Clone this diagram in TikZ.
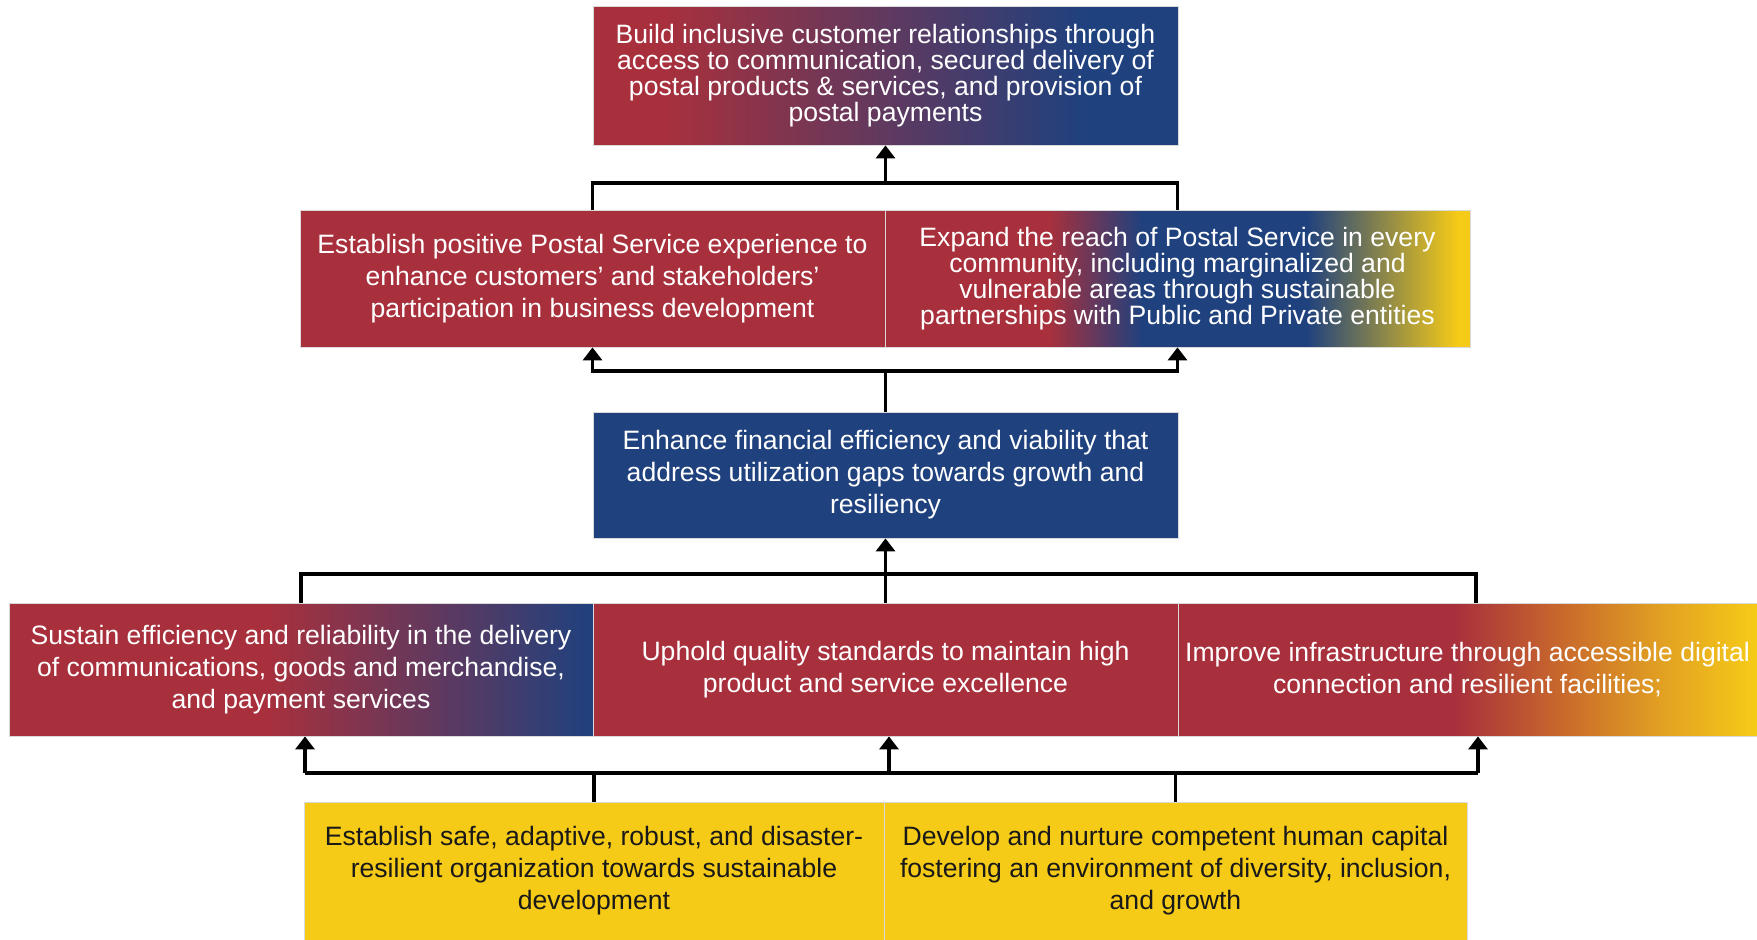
\documentclass[tikz,border=0pt]{standalone}
\usepackage{fontspec}
\setmainfont{Liberation Sans}
\usetikzlibrary{arrows.meta}
\definecolor{cred}{HTML}{A8303C}
\definecolor{cblue}{HTML}{1F417E}
\definecolor{cyel}{HTML}{F6CB17}
\definecolor{corange}{HTML}{C8682C}
\definecolor{camber}{HTML}{E2A222}
\pgfdeclarehorizontalshading{topgrad}{100bp}{color(0bp)=(cred); color(25bp)=(cred); color(31bp)=(cred); color(67bp)=(cblue); color(75bp)=(cblue); color(100bp)=(cblue)}
\pgfdeclarehorizontalshading{rbygrad}{100bp}{color(0bp)=(cred); color(25bp)=(cred); color(39bp)=(cred); color(47bp)=(cblue); color(61bp)=(cblue); color(74bp)=(cyel); color(75bp)=(cyel); color(100bp)=(cyel)}
\pgfdeclarehorizontalshading{rbgrad}{100bp}{color(0bp)=(cred); color(25bp)=(cred); color(47bp)=(cred); color(75bp)=(cblue); color(100bp)=(cblue)}
\pgfdeclarehorizontalshading{rygrad}{100bp}{color(0bp)=(cred); color(25bp)=(cred); color(49bp)=(cred); color(58bp)=(corange); color(67bp)=(camber); color(75bp)=(cyel); color(100bp)=(cyel)}
\tikzset{
  box/.style={rectangle, inner sep=0pt, align=center, draw=white!85!black, line width=0.8pt,
    font=\fontsize{26.6pt}{32pt}\selectfont},
  tight/.style={font=\fontsize{26.6pt}{26pt}\selectfont},
  redbox/.style={box, fill=cred, text=white},
  bluebox/.style={box, fill=cblue, text=white},
  yelbox/.style={box, fill=cyel, text=black!90},
  gradbox/.style={box, text=white, shade, shading=#1},
  conn/.style={line width=3.6pt, black},
  arr/.style={conn, -{Triangle[width=19pt 0 0,length=13pt 0 0]}},
}
\begin{document}
\begin{tikzpicture}[x=1pt,y=-1pt]
\useasboundingbox (0,0) rectangle (1757,940);
% boxes
\node[gradbox=topgrad, tight, minimum width=585, minimum height=139] (top) at (885.5,75.5)
  {Build inclusive customer relationships through\\access to communication, secured delivery of\\postal products \& services, and provision of\\postal payments};
\node[redbox, minimum width=585, minimum height=137] (r2a) at (592.5,278.5)
  {Establish positive Postal Service experience to\\enhance customers’ and stakeholders’\\participation in business development};
\node[gradbox=rbygrad, tight, minimum width=585, minimum height=137] (r2b) at (1177.5,278.5)
  {Expand the reach of Postal Service in every\\community, including marginalized and\\vulnerable areas through sustainable\\partnerships with Public and Private entities};
\node[bluebox, minimum width=585, minimum height=126] (r3) at (885.5,475)
  {Enhance financial efficiency and viability that\\address utilization gaps towards growth and\\resiliency};
\node[gradbox=rbgrad, minimum width=584, minimum height=133] (r4a) at (301,669.5)
  {Sustain efficiency and reliability in the delivery\\of communications, goods and merchandise,\\and payment services};
\node[redbox, minimum width=585, minimum height=133] (r4b) at (885.5,669.5)
  {Uphold quality standards to maintain high\\product and service excellence};
\node[gradbox=rygrad, minimum width=579, minimum height=133] (r4c) at (1467.5,669.5)
  {Improve infrastructure through accessible digital\\connection and resilient facilities;};
\node[yelbox, minimum width=580, minimum height=138] (r5a) at (594,871)
  {Establish safe, adaptive, robust, and disaster-\\resilient organization towards sustainable\\development};
\node[yelbox, minimum width=583, minimum height=138] (r5b) at (1175.5,871)
  {Develop and nurture competent human capital\\fostering an environment of diversity, inclusion,\\and growth};
% junctions
\coordinate (j1) at (885.5,183);
\coordinate (j2) at (885.5,371);
\coordinate (j3) at (885.5,574);
\coordinate (j4) at (885.5,773);
% row 2 -> top
\draw[conn] (r2a.north) |- (j1) -| (r2b.north);
\draw[arr] (j1) -- (top.south);
% row 3 -> row 2
\draw[conn] (r3.north) -- (j2);
\draw[arr] (j2) -| (r2a.south);
\draw[arr] (j2) -| (r2b.south);
% row 4 -> row 3
\coordinate (r4cN) at ([xshift=8.5pt]r4c.north);
\draw[conn] (r4a.north) |- (j3) -| (r4cN);
\draw[arr] (r4b.north) -- (r3.south);
% row 5 -> row 4
\coordinate (r4aS) at ([xshift=4pt]r4a.south);
\coordinate (r4bS) at ([xshift=3.5pt]r4b.south);
\coordinate (r4cS) at ([xshift=10.5pt]r4c.south);
\draw[conn] (r5a.north) -- (r5a.north |- j4);
\draw[conn] (r5b.north) -- (r5b.north |- j4);
\draw[conn] (r4aS |- j4) -- (r4cS |- j4);
\draw[arr] (r4aS |- j4) -- (r4aS);
\draw[arr] (r4bS |- j4) -- (r4bS);
\draw[arr] (r4cS |- j4) -- (r4cS);
\end{tikzpicture}
\end{document}
